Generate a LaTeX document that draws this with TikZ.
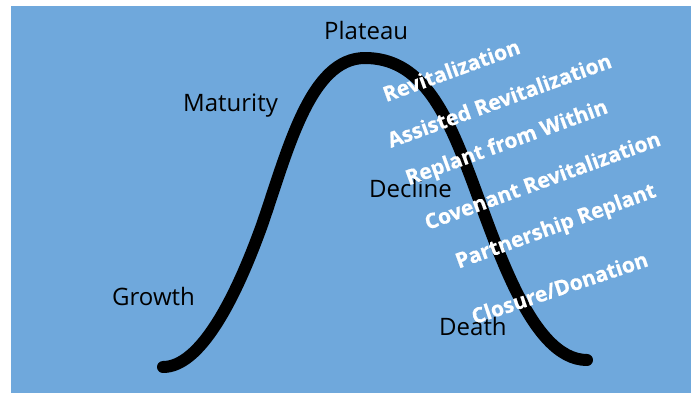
\documentclass[tikz,border=0pt]{standalone}
\usepackage{fontspec}
\setmainfont{Open Sans}
\newfontfamily\heavyfont[BoldFeatures={FakeBold=0.6}]{Open Sans}
\definecolor{bgblue}{HTML}{6FA8DC}
\begin{document}
\begin{tikzpicture}[x=1pt,y=-1pt,
  stage/.style={anchor=base west,inner sep=0pt,font=\fontsize{24}{28}\selectfont,text=black},
  option/.style={anchor=base,inner sep=0pt,rotate=20,font=\fontsize{21}{25}\selectfont\heavyfont\bfseries,text=white}]
\useasboundingbox (0,0) rectangle (691,393);
\fill[bgblue] (11,6) rectangle (691,393);
\draw[line width=12pt,line cap=round,line join=round]
  (163,367) .. controls (200,367) and (235,300) .. (262,225)
  .. controls (288,150) and (310,58) .. (365,58)
  .. controls (420,58) and (445,110) .. (468,170)
  .. controls (495,240) and (530,360) .. (587,360);
\node[stage] (plateau) at (324,40) {Plateau};
\node[stage] (maturity) at (183,112) {Maturity};
\node[stage] (decline) at (369,197) {Decline};
\node[stage] (growth) at (112,305) {Growth};
\node[stage] (death) at (439,335) {Death};
\node[option] (o1) at (454,77.5) {Revitalization};
\node[option] (o2) at (502,107.5) {Assisted Revitalization};
\node[option] (o3) at (509,149) {Replant from Within};
\node[option] (o4) at (545,187.5) {Covenant Revitalization};
\node[option] (o5) at (558,232.5) {Partnership Replant};
\node[option,rotate=-1.5] (o6) at (562,295) {Closure/Donation};
\end{tikzpicture}
\end{document}
